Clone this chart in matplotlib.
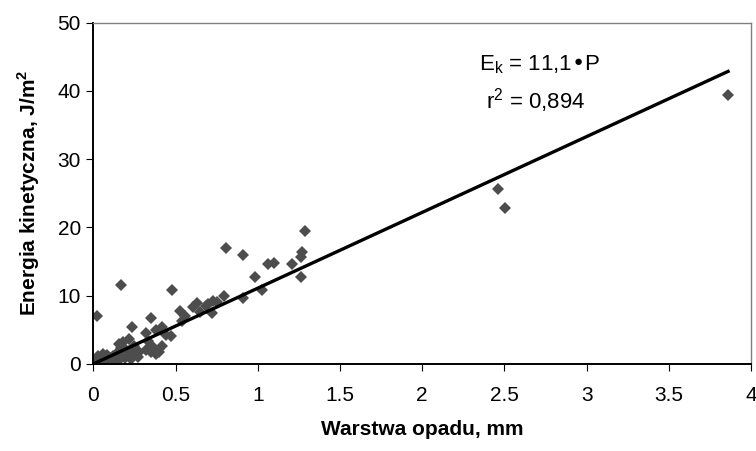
import numpy as np
import matplotlib
matplotlib.use('Agg')
import matplotlib.pyplot as plt

plt.rcParams['font.family'] = ['Liberation Sans', 'DejaVu Sans']

# rainfall depth (mm) and kinetic energy (J/m2)
warstwa = [0.00, 0.01, 0.02, 0.03, 0.04, 0.05, 0.06, 0.07, 0.08, 0.09,
           0.10, 0.11, 0.12, 0.02, 0.04, 0.06, 0.13, 0.14, 0.15, 0.16,
           0.05, 0.03, 0.08, 0.10,
           0.155, 0.155, 0.17, 0.18, 0.20, 0.216, 0.22, 0.236, 0.25, 0.256,
           0.27, 0.19, 0.23, 0.28,
           0.318, 0.32, 0.33, 0.348, 0.36, 0.383, 0.40, 0.42, 0.42, 0.44,
           0.47, 0.476, 0.38, 0.35,
           0.527, 0.54, 0.56, 0.603, 0.633, 0.65, 0.684, 0.70, 0.72, 0.725,
           0.75, 0.796, 0.808, 0.908, 0.908, 0.98, 1.024, 1.06, 1.10, 1.21,
           1.26, 1.26, 1.27, 1.289,
           0.171, 0.022, 2.46, 2.506, 3.86]
energia = [0.05, 0.3, 0.6, 1.2, 0.4, 1.0, 0.2, 0.8, 1.3, 0.5,
           0.9, 0.3, 1.1, 0.1, 0.9, 1.4, 0.6, 1.5, 0.4, 1.0,
           0.0, 0.2, 0.1, 0.2,
           2.9, 1.7, 2.4, 3.2, 2.0, 3.65, 1.3, 5.35, 2.6, 2.2,
           1.0, 0.8, 0.7, 1.8,
           4.6, 2.1, 3.3, 6.7, 2.5, 4.9, 1.7, 2.7, 5.35, 4.2,
           4.1, 10.9, 1.4, 1.8,
           7.8, 6.3, 7.0, 8.3, 9.0, 7.6, 8.5, 8.8, 7.5, 9.24,
           9.1, 9.9, 17.0, 15.9, 9.7, 12.8, 10.85, 14.6, 14.8, 14.6,
           12.8, 15.7, 16.4, 19.4,
           11.5, 6.96, 25.6, 22.9, 39.4]
wsp = 11.1
r2 = '0,894'

x_ticks = [0, 0.5, 1, 1.5, 2, 2.5, 3, 3.5, 4]
x_labels = ['0', '0.5', '1', '1.5', '2', '2.5', '3', '3.5', '4']
y_ticks = [0, 10, 20, 30, 40, 50]

fig = plt.figure(figsize=(7.56, 4.51), dpi=100)
ax = fig.add_axes([0.1235, 0.193, 0.87, 0.757])

ax.plot(warstwa, energia, linestyle='none', marker='D', markersize=6,
        color='#4d4d4d', markeredgewidth=0, zorder=2)
xl = np.array([0, max(warstwa)])
ax.plot(xl, wsp * xl, color='black', linewidth=2.4, zorder=3)

ax.set_xlim(0, 4)
ax.set_ylim(0, 50)
ax.set_xticks(x_ticks)
ax.set_xticklabels(x_labels)
ax.set_yticks(y_ticks)
ax.tick_params(axis='x', direction='out', length=5, width=0.8, pad=11, labelsize=15)
ax.tick_params(axis='y', direction='out', length=5, width=0.8, pad=4, labelsize=15)

for s in ['left', 'bottom']:
    ax.spines[s].set_linewidth(1.4)
    ax.spines[s].set_color('black')
for s in ['top', 'right']:
    ax.spines[s].set_linewidth(1.0)
    ax.spines[s].set_color('#808080')

ax.set_xlabel('Warstwa opadu, mm', fontsize=15, fontweight='bold', labelpad=11)
ax.set_ylabel('Energia kinetyczna, J/m$^\\mathregular{2}$', fontsize=15,
              fontweight='bold', labelpad=11)

ax.text(2.71, 43.8, 'E$_\\mathregular{k}$ = 11,1•P', fontsize=16,
        ha='center', va='center')
ax.text(2.69, 38.6, 'r$^\\mathregular{2}$ = ' + r2, fontsize=16,
        ha='center', va='center')

fig.savefig('out.png', dpi=100)
